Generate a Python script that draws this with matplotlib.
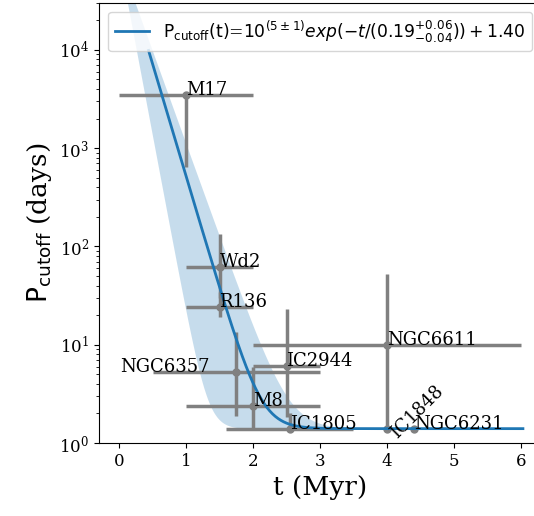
import matplotlib
matplotlib.use('Agg')
import matplotlib.pyplot as plt
import numpy as np

plt.rcParams['font.family'] = 'serif'

# clusters: age (Myr) and cutoff period (days) with errors
names = ['M17', 'Wd2', 'R136', 'NGC6357', 'IC2944', 'M8', 'IC1805',
         'NGC6611', 'IC1848', 'NGC6231']
age = [1.0, 1.5, 1.5, 1.75, 2.5, 2.0, 2.55, 4.0, 4.0, 4.4]
age_err = [1.0, 0.5, 0.5, 1.25, 0.5, 1.0, 0.95, 2.0, 0.0, 0.0]
pcut = [3500, 62, 24, 5.3, 6.05, 2.4, 1.4, 10, 1.4, 1.4]
pcut_err_lo = [2850, 32, 5, 3.4, 4.2, 1.0, 0.0, 8.6, 0.0, 0.0]
pcut_err_hi = [0, 73, 10, 8.2, 17.3, 3.6, 0.6, 42, 0.0, 0.0]

# fit parameters and band envelope
fit_amp, fit_tau, fit_c = 1e5, 0.19, 1.40
band_amp = 10**4.93
band_tau_lo, band_tau_hi = 0.12, 0.23

fig = plt.figure(figsize=(5.34, 5.16), dpi=100)
ax = fig.add_axes([99/534, 73/516, 442/534, 440/516])

t_band = np.linspace(0, 6, 400)
ax.fill_between(t_band, band_amp*np.exp(-t_band/band_tau_lo) + fit_c,
                band_amp*np.exp(-t_band/band_tau_hi) + fit_c,
                color='C0', alpha=0.25, lw=0, zorder=1)

ax.errorbar(age, pcut, xerr=age_err, yerr=[pcut_err_lo, pcut_err_hi],
            fmt='o', color='gray', ms=5, elinewidth=2.5, capsize=0, zorder=2)

t_fit = np.linspace(0.44, 6.03, 400)
ax.plot(t_fit, fit_amp*np.exp(-t_fit/fit_tau) + fit_c, color='C0', lw=2,
        zorder=3,
        label=r'$\rm P_{cutoff}(t)$=$10^{(5\pm1)}exp(-t/(0.19^{+0.06}_{-0.04})) + 1.40$')

for n, x, y in zip(names, age, pcut):
    if n == 'NGC6357':
        ax.text(x - 0.4, y, n, ha='right', fontsize=13, zorder=4)
    elif n == 'IC1848':
        ax.text(x, y * 0.8, n, rotation=45, fontsize=13, zorder=4)
    else:
        ax.text(x, y, n, fontsize=13, zorder=4)

ax.set_yscale('log')
ax.set_xlim(-0.3, 6.3)
ax.set_ylim(1, 3e4)
ax.set_xticks(range(0, 7))
ax.tick_params(labelsize=12)
ax.set_xlabel('t (Myr)', fontsize=19)
ax.set_ylabel(r'$\rm P_{cutoff}$ (days)', fontsize=19)
ax.legend(loc='upper right', fontsize=12.3)

fig.savefig('out.png', dpi=100)
